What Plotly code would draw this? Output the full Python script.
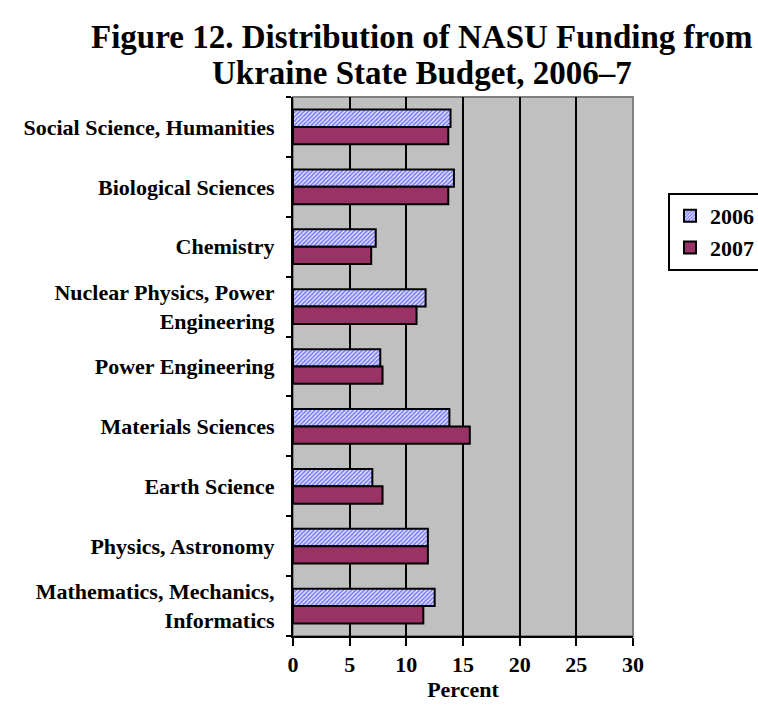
import plotly.graph_objects as go

categories = [
    "Social Science, Humanities",
    "Biological Sciences",
    "Chemistry",
    "Nuclear Physics, Power<br>Engineering",
    "Power Engineering",
    "Materials Sciences",
    "Earth Science",
    "Physics, Astronomy",
    "Mathematics, Mechanics,<br>Informatics",
]
values_2006 = [13.9, 14.2, 7.3, 11.7, 7.7, 13.8, 7.0, 11.9, 12.5]
values_2007 = [13.7, 13.7, 6.9, 10.9, 7.9, 15.6, 7.9, 11.9, 11.5]
x_ticks = [0, 5, 10, 15, 20, 25, 30]
title_lines = ["Figure 12. Distribution of NASU Funding from",
               "Ukraine State Budget, 2006–7"]

FONT = "Liberation Serif, Times New Roman, serif"

fig = go.Figure()
fig.add_trace(go.Bar(
    y=categories, x=values_2006, orientation="h", name="<b>2006</b>",
    legendgroup="a",
    marker=dict(color="white", line=dict(color="black", width=2),
                pattern=dict(shape="/", fgcolor="#0000ff", bgcolor="white",
                             size=3, solidity=0.65)),
))
fig.add_trace(go.Bar(
    y=categories, x=values_2007, orientation="h", name="<b>2007</b>",
    legendgroup="b",
    marker=dict(color="#993366", line=dict(color="black", width=2)),
))

fig.update_layout(
    width=758, height=708,
    paper_bgcolor="white", plot_bgcolor="#c0c0c0",
    barmode="group", bargap=0.42, bargroupgap=0.0,
    margin=dict(l=293, r=125, t=97, b=72, autoexpand=False),
    font=dict(family=FONT, color="black"),
    legend=dict(xref="container", yref="container", x=668 / 758, y=1 - 193 / 708,
                xanchor="left", yanchor="top",
                bordercolor="black", borderwidth=2, bgcolor="white",
                font=dict(size=22, family=FONT, color="black"),
                traceorder="normal", itemwidth=30, tracegroupgap=6),
    xaxis=dict(range=[0, 30], tickvals=x_ticks, ticktext=[f"<b>{t}</b>" for t in x_ticks],
               showgrid=True, gridcolor="black", gridwidth=2,
               showline=True, linecolor="black", linewidth=2,
               ticks="outside", ticklen=8, tickwidth=2, tickcolor="black",
               tickfont=dict(size=22, family=FONT), zeroline=False,
               title=dict(text="<b>Percent</b>", font=dict(size=22, family=FONT), standoff=2)),
    yaxis=dict(autorange="reversed", showline=True, linecolor="black", linewidth=2,
               ticks="outside", ticklen=5, tickwidth=2, tickcolor="black",
               tickson="boundaries", showgrid=False,
               ticktext=[f"<b>{c}</b>" for c in categories], tickvals=categories,
               tickfont=dict(size=22, family=FONT), ticklabelstandoff=12),
)

for i, line in enumerate(title_lines):
    fig.add_annotation(text=f"<b>{line}</b>", xref="paper", yref="paper",
                       x=(422 - 293) / 340, y=1 + (97 - (37 + 36 * i)) / 539,
                       xanchor="center", yanchor="middle", showarrow=False,
                       font=dict(size=33, family=FONT, color="black"))

fig.add_shape(type="rect", xref="paper", yref="paper", x0=0, y0=0, x1=1, y1=1,
              line=dict(color="#808080", width=2), layer="below")

fig.write_html("out.html", config={"displayModeBar": False},
               post_script="document.body.style.margin='0px';")
